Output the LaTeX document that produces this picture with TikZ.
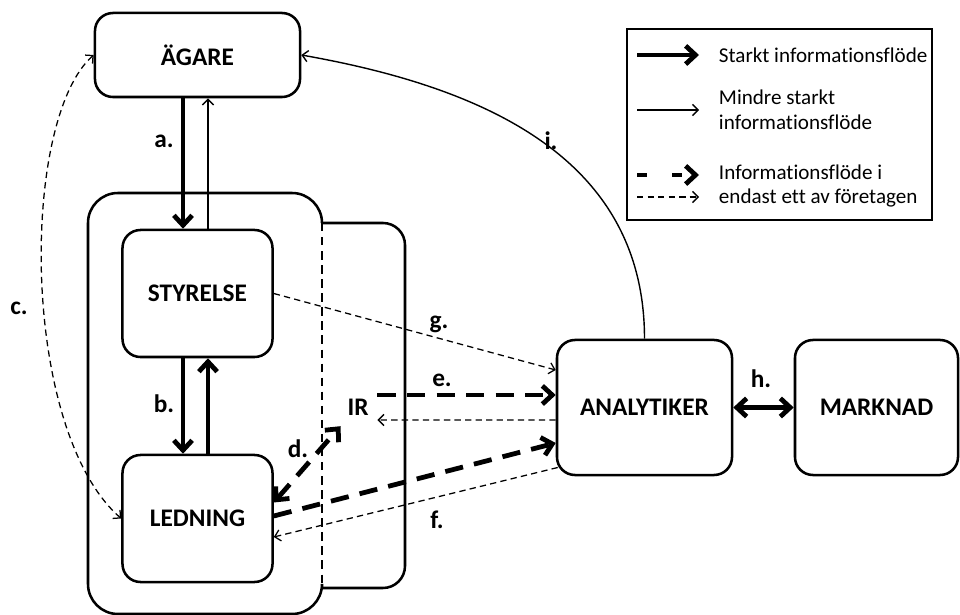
\documentclass[tikz,border=0pt]{standalone}
\usepackage{fontspec}
\setmainfont{Carlito}[Ligatures=NoCommon]
\usetikzlibrary{calc}
\usetikzlibrary{arrows.meta}

\begin{document}
\begin{tikzpicture}[x=0.025cm,y=-0.025cm,
  box/.style={draw, line width=1.8pt, rounded corners=0.45cm, font=\fontsize{18}{21}\selectfont\bfseries},
  lbl/.style={font=\fontsize{18}{21}\selectfont\bfseries},
  strong/.style={line width=3.4pt, -{Straight Barb[length=7pt,width=13pt]}},
  weak/.style={line width=1pt, -{Straight Barb[length=4pt,width=8pt]}},
  strongdash/.style={strong, dash pattern=on 13pt off 8pt},
  weakdash/.style={line width=0.9pt, dash pattern=on 4.5pt off 3pt, -{Straight Barb[length=4pt,width=8pt]}},
  legtext/.style={font=\fontsize{15}{17.7}\selectfont, anchor=west, align=left}]

\useasboundingbox (0,0) rectangle (960,615);

% group boxes
\draw[line width=1.8pt, rounded corners=0.75cm] (322,223) -- (322,193) -- (88,193) -- (88,614) -- (322,614) -- (322,588);
\draw[line width=1.8pt, rounded corners=0.55cm] (322,223) -- (405,223) -- (405,588) -- (322,588);
\draw[line width=1.8pt, dash pattern=on 6pt off 4pt] (322,223) -- (322,588);

\node[box, minimum width=5.125cm, minimum height=2.1cm] (agare) at (197.5,55) {ÄGARE};
\node[box, minimum width=3.75cm, minimum height=3.175cm] (styrelse) at (197.5,293.5) {STYRELSE};
\node[box, minimum width=3.75cm, minimum height=3.175cm] (ledning) at (197.5,518.5) {LEDNING};
\node[box, minimum width=4.375cm, minimum height=3.375cm] (analytiker) at (644.5,407.5) {ANALYTIKER};
\node[box, minimum width=4.075cm, minimum height=3.375cm] (marknad) at (876.5,407.5) {MARKNAD};
\node[lbl] (ir) at (358,407) {IR};

% flows
\draw[strong] ($(agare.south)+(-14.5,0)$) -- ($(styrelse.north)+(-14.5,0)$);
\draw[weak] ($(styrelse.north)+(10.5,0)$) -- ($(agare.south)+(10.5,0)$);
\draw[strong] ($(styrelse.south)+(-14.5,0)$) -- ($(ledning.north)+(-14.5,0)$);
\draw[strong] ($(ledning.north)+(10.5,0)$) -- ($(styrelse.south)+(10.5,0)$);
\draw[weakdash, {Straight Barb[length=4pt,width=8pt]}-{Straight Barb[length=4pt,width=8pt]}] (agare.west) .. controls (20,120) and (20,430) .. (ledning.west);
\draw[strongdash, {Straight Barb[length=7pt,width=13pt]}-{Straight Barb[length=7pt,width=13pt]}] ($(ledning.east)+(0,-16)$) -- ($(ir.south west)+(-2,6)$);
\draw[strongdash] ($(ir.east)+(4,-12)$) -- ($(analytiker.west)+(0,-12.5)$);
\draw[weakdash] ($(analytiker.west)+(0,12.5)$) -- ($(ir.east)+(4,13)$);
\draw[strongdash] ($(ledning.east)+(0,-2.5)$) -- ($(analytiker.west)+(0,35.5)$);
\draw[weakdash] ($(analytiker.west)+(2,60)$) -- ($(ledning.east)+(0,18.5)$);
\draw[weakdash] (styrelse.east) -- ($(analytiker.west)+(0,-37.5)$);
\draw[strong, {Straight Barb[length=7pt,width=13pt]}-{Straight Barb[length=7pt,width=13pt]}] (analytiker.east) -- (marknad.west);
\draw[weak] (analytiker.north) to[out=90, in=-10, looseness=1.05] (agare.east);

\node[lbl] (la) at (164,141) {a.};
\node[lbl] (lb) at (164,404) {b.};
\node[lbl] (lc) at (19,308) {c.};
\node[lbl] (ld) at (298,449) {d.};
\node[lbl] (le) at (442,380) {e.};
\node[lbl] (lf) at (437,520) {f.};
\node[lbl] (lg) at (439,324) {g.};
\node[lbl] (lh) at (761,379) {h.};
\node[lbl] (li) at (551,141) {i.};

% legend
\node[draw, line width=1.5pt, minimum width=7.625cm, minimum height=4.775cm] (legend) at (779.5,124.5) {};
\coordinate (s1) at (637,55);  \coordinate (e1) at (699,55);
\coordinate (s2) at (637,110); \coordinate (e2) at (699,110);
\coordinate (s3) at (637,175); \coordinate (e3) at (699,175);
\coordinate (s4) at (637,197); \coordinate (e4) at (699,197);
\draw[strong] (s1) -- (e1);
\draw[weak] (s2) -- (e2);
\draw[strong, dash pattern=on 7pt off 18pt] (s3) -- (e3);
\draw[weakdash] (s4) -- (e4);
\node[legtext] (t1) at (714,55) {Starkt informationsflöde};
\node[legtext] (t2) at (714,110) {Mindre starkt\\informationsflöde};
\node[legtext] (t3) at (714,186) {Informationsflöde i\\endast ett av företagen};

\end{tikzpicture}
\end{document}
